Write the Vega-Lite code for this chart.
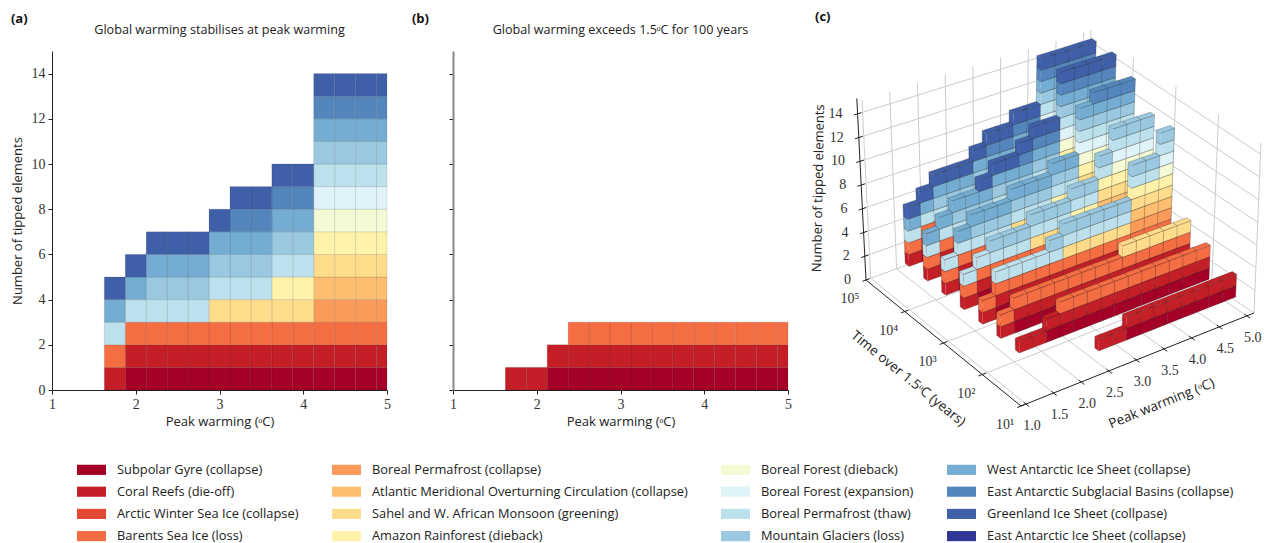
{"$schema":"https://vega.github.io/schema/vega-lite/v6.json","padding":{"left":10,"top":11,"right":0,"bottom":0},"background":"white","bounds":"flush","spacing":66,"resolve":{"scale":{"fill":"independent"},"legend":{"fill":"independent"}},
"datasets":{"elements":[{"id":1,"name":"Subpolar Gyre (collapse)"},{"id":2,"name":"Coral Reefs (die-off)"},{"id":3,"name":"Arctic Winter Sea Ice (collapse)"},{"id":4,"name":"Barents Sea Ice (loss)"},{"id":5,"name":"Boreal Permafrost (collapse)"},{"id":6,"name":"Atlantic Meridional Overturning Circulation (collapse)"},{"id":7,"name":"Sahel and W. African Monsoon (greening)"},{"id":8,"name":"Amazon Rainforest (dieback)"},{"id":9,"name":"Boreal Forest (dieback)"},{"id":10,"name":"Boreal Forest (expansion)"},{"id":11,"name":"Boreal Permafrost (thaw)"},{"id":12,"name":"Mountain Glaciers (loss)"},{"id":13,"name":"West Antarctic Ice Sheet (collapse)"},{"id":14,"name":"East Antarctic Subglacial Basins (collapse)"},{"id":15,"name":"Greenland Ice Sheet (collpase)"},{"id":16,"name":"East Antarctic Ice Sheet (collapse)"}],
"cells":[
{"t":5,"w":5,"e":1},{"t":5,"w":5,"e":2},{"t":5,"w":5,"e":4},{"t":5,"w":5,"e":5},{"t":5,"w":5,"e":6},{"t":5,"w":5,"e":7},{"t":5,"w":5,"e":8},{"t":5,"w":5,"e":9},{"t":5,"w":5,"e":10},{"t":5,"w":5,"e":11},{"t":5,"w":5,"e":12},{"t":5,"w":5,"e":13},{"t":5,"w":5,"e":14},{"t":5,"w":5,"e":15},
{"t":5,"w":4.75,"e":1},{"t":5,"w":4.75,"e":2},{"t":5,"w":4.75,"e":4},{"t":5,"w":4.75,"e":5},{"t":5,"w":4.75,"e":6},{"t":5,"w":4.75,"e":7},{"t":5,"w":4.75,"e":8},{"t":5,"w":4.75,"e":9},{"t":5,"w":4.75,"e":10},{"t":5,"w":4.75,"e":11},{"t":5,"w":4.75,"e":12},{"t":5,"w":4.75,"e":13},{"t":5,"w":4.75,"e":14},{"t":5,"w":4.75,"e":15},
{"t":5,"w":4.5,"e":1},{"t":5,"w":4.5,"e":2},{"t":5,"w":4.5,"e":4},{"t":5,"w":4.5,"e":5},{"t":5,"w":4.5,"e":6},{"t":5,"w":4.5,"e":7},{"t":5,"w":4.5,"e":8},{"t":5,"w":4.5,"e":9},{"t":5,"w":4.5,"e":10},{"t":5,"w":4.5,"e":11},{"t":5,"w":4.5,"e":12},{"t":5,"w":4.5,"e":13},{"t":5,"w":4.5,"e":14},{"t":5,"w":4.5,"e":15},
{"t":5,"w":4.25,"e":1},{"t":5,"w":4.25,"e":2},{"t":5,"w":4.25,"e":4},{"t":5,"w":4.25,"e":5},{"t":5,"w":4.25,"e":6},{"t":5,"w":4.25,"e":7},{"t":5,"w":4.25,"e":8},{"t":5,"w":4.25,"e":9},{"t":5,"w":4.25,"e":10},{"t":5,"w":4.25,"e":11},{"t":5,"w":4.25,"e":12},{"t":5,"w":4.25,"e":13},{"t":5,"w":4.25,"e":14},{"t":5,"w":4.25,"e":15},
{"t":5,"w":4,"e":1},{"t":5,"w":4,"e":2},{"t":5,"w":4,"e":4},{"t":5,"w":4,"e":7},{"t":5,"w":4,"e":8},{"t":5,"w":4,"e":11},{"t":5,"w":4,"e":12},{"t":5,"w":4,"e":13},{"t":5,"w":4,"e":14},{"t":5,"w":4,"e":15},
{"t":5,"w":3.75,"e":1},{"t":5,"w":3.75,"e":2},{"t":5,"w":3.75,"e":4},{"t":5,"w":3.75,"e":7},{"t":5,"w":3.75,"e":8},{"t":5,"w":3.75,"e":11},{"t":5,"w":3.75,"e":12},{"t":5,"w":3.75,"e":13},{"t":5,"w":3.75,"e":14},{"t":5,"w":3.75,"e":15},
{"t":5,"w":3.5,"e":1},{"t":5,"w":3.5,"e":2},{"t":5,"w":3.5,"e":4},{"t":5,"w":3.5,"e":7},{"t":5,"w":3.5,"e":11},{"t":5,"w":3.5,"e":12},{"t":5,"w":3.5,"e":13},{"t":5,"w":3.5,"e":14},{"t":5,"w":3.5,"e":15},
{"t":5,"w":3.25,"e":1},{"t":5,"w":3.25,"e":2},{"t":5,"w":3.25,"e":4},{"t":5,"w":3.25,"e":7},{"t":5,"w":3.25,"e":11},{"t":5,"w":3.25,"e":12},{"t":5,"w":3.25,"e":13},{"t":5,"w":3.25,"e":14},{"t":5,"w":3.25,"e":15},
{"t":5,"w":3,"e":1},{"t":5,"w":3,"e":2},{"t":5,"w":3,"e":4},{"t":5,"w":3,"e":7},{"t":5,"w":3,"e":11},{"t":5,"w":3,"e":12},{"t":5,"w":3,"e":13},{"t":5,"w":3,"e":15},
{"t":5,"w":2.75,"e":1},{"t":5,"w":2.75,"e":2},{"t":5,"w":2.75,"e":4},{"t":5,"w":2.75,"e":11},{"t":5,"w":2.75,"e":12},{"t":5,"w":2.75,"e":13},{"t":5,"w":2.75,"e":15},
{"t":5,"w":2.5,"e":1},{"t":5,"w":2.5,"e":2},{"t":5,"w":2.5,"e":4},{"t":5,"w":2.5,"e":11},{"t":5,"w":2.5,"e":12},{"t":5,"w":2.5,"e":13},{"t":5,"w":2.5,"e":15},
{"t":5,"w":2.25,"e":1},{"t":5,"w":2.25,"e":2},{"t":5,"w":2.25,"e":4},{"t":5,"w":2.25,"e":11},{"t":5,"w":2.25,"e":12},{"t":5,"w":2.25,"e":13},{"t":5,"w":2.25,"e":15},
{"t":5,"w":2,"e":1},{"t":5,"w":2,"e":2},{"t":5,"w":2,"e":4},{"t":5,"w":2,"e":11},{"t":5,"w":2,"e":13},{"t":5,"w":2,"e":15},
{"t":5,"w":1.75,"e":2},{"t":5,"w":1.75,"e":4},{"t":5,"w":1.75,"e":11},{"t":5,"w":1.75,"e":13},{"t":5,"w":1.75,"e":15},
{"t":4.53,"w":5,"e":1},{"t":4.53,"w":5,"e":2},{"t":4.53,"w":5,"e":4},{"t":4.53,"w":5,"e":5},{"t":4.53,"w":5,"e":6},{"t":4.53,"w":5,"e":7},{"t":4.53,"w":5,"e":8},{"t":4.53,"w":5,"e":9},{"t":4.53,"w":5,"e":10},{"t":4.53,"w":5,"e":11},{"t":4.53,"w":5,"e":12},{"t":4.53,"w":5,"e":13},{"t":4.53,"w":5,"e":14},{"t":4.53,"w":5,"e":15},
{"t":4.53,"w":4.75,"e":1},{"t":4.53,"w":4.75,"e":2},{"t":4.53,"w":4.75,"e":4},{"t":4.53,"w":4.75,"e":5},{"t":4.53,"w":4.75,"e":6},{"t":4.53,"w":4.75,"e":7},{"t":4.53,"w":4.75,"e":8},{"t":4.53,"w":4.75,"e":9},{"t":4.53,"w":4.75,"e":10},{"t":4.53,"w":4.75,"e":11},{"t":4.53,"w":4.75,"e":12},{"t":4.53,"w":4.75,"e":13},{"t":4.53,"w":4.75,"e":14},{"t":4.53,"w":4.75,"e":15},
{"t":4.53,"w":4.5,"e":1},{"t":4.53,"w":4.5,"e":2},{"t":4.53,"w":4.5,"e":4},{"t":4.53,"w":4.5,"e":5},{"t":4.53,"w":4.5,"e":6},{"t":4.53,"w":4.5,"e":7},{"t":4.53,"w":4.5,"e":8},{"t":4.53,"w":4.5,"e":9},{"t":4.53,"w":4.5,"e":10},{"t":4.53,"w":4.5,"e":11},{"t":4.53,"w":4.5,"e":12},{"t":4.53,"w":4.5,"e":13},{"t":4.53,"w":4.5,"e":14},{"t":4.53,"w":4.5,"e":15},
{"t":4.53,"w":4.25,"e":1},{"t":4.53,"w":4.25,"e":2},{"t":4.53,"w":4.25,"e":4},{"t":4.53,"w":4.25,"e":5},{"t":4.53,"w":4.25,"e":6},{"t":4.53,"w":4.25,"e":7},{"t":4.53,"w":4.25,"e":8},{"t":4.53,"w":4.25,"e":9},{"t":4.53,"w":4.25,"e":10},{"t":4.53,"w":4.25,"e":11},{"t":4.53,"w":4.25,"e":12},{"t":4.53,"w":4.25,"e":13},{"t":4.53,"w":4.25,"e":14},{"t":4.53,"w":4.25,"e":15},
{"t":4.53,"w":4,"e":1},{"t":4.53,"w":4,"e":2},{"t":4.53,"w":4,"e":4},{"t":4.53,"w":4,"e":7},{"t":4.53,"w":4,"e":8},{"t":4.53,"w":4,"e":11},{"t":4.53,"w":4,"e":12},{"t":4.53,"w":4,"e":13},{"t":4.53,"w":4,"e":14},{"t":4.53,"w":4,"e":15},
{"t":4.53,"w":3.75,"e":1},{"t":4.53,"w":3.75,"e":2},{"t":4.53,"w":3.75,"e":4},{"t":4.53,"w":3.75,"e":7},{"t":4.53,"w":3.75,"e":8},{"t":4.53,"w":3.75,"e":11},{"t":4.53,"w":3.75,"e":12},{"t":4.53,"w":3.75,"e":13},{"t":4.53,"w":3.75,"e":14},{"t":4.53,"w":3.75,"e":15},
{"t":4.53,"w":3.5,"e":1},{"t":4.53,"w":3.5,"e":2},{"t":4.53,"w":3.5,"e":4},{"t":4.53,"w":3.5,"e":7},{"t":4.53,"w":3.5,"e":11},{"t":4.53,"w":3.5,"e":12},{"t":4.53,"w":3.5,"e":13},{"t":4.53,"w":3.5,"e":14},{"t":4.53,"w":3.5,"e":15},
{"t":4.53,"w":3.25,"e":1},{"t":4.53,"w":3.25,"e":2},{"t":4.53,"w":3.25,"e":4},{"t":4.53,"w":3.25,"e":7},{"t":4.53,"w":3.25,"e":11},{"t":4.53,"w":3.25,"e":12},{"t":4.53,"w":3.25,"e":13},{"t":4.53,"w":3.25,"e":15},
{"t":4.53,"w":3,"e":1},{"t":4.53,"w":3,"e":2},{"t":4.53,"w":3,"e":4},{"t":4.53,"w":3,"e":7},{"t":4.53,"w":3,"e":11},{"t":4.53,"w":3,"e":12},{"t":4.53,"w":3,"e":13},{"t":4.53,"w":3,"e":15},
{"t":4.53,"w":2.75,"e":1},{"t":4.53,"w":2.75,"e":2},{"t":4.53,"w":2.75,"e":4},{"t":4.53,"w":2.75,"e":11},{"t":4.53,"w":2.75,"e":12},{"t":4.53,"w":2.75,"e":13},{"t":4.53,"w":2.75,"e":15},
{"t":4.53,"w":2.5,"e":1},{"t":4.53,"w":2.5,"e":2},{"t":4.53,"w":2.5,"e":4},{"t":4.53,"w":2.5,"e":11},{"t":4.53,"w":2.5,"e":12},{"t":4.53,"w":2.5,"e":13},
{"t":4.53,"w":2.25,"e":1},{"t":4.53,"w":2.25,"e":2},{"t":4.53,"w":2.25,"e":4},{"t":4.53,"w":2.25,"e":11},{"t":4.53,"w":2.25,"e":12},{"t":4.53,"w":2.25,"e":13},
{"t":4.53,"w":2,"e":1},{"t":4.53,"w":2,"e":2},{"t":4.53,"w":2,"e":4},{"t":4.53,"w":2,"e":11},{"t":4.53,"w":2,"e":13},
{"t":4.53,"w":1.75,"e":2},{"t":4.53,"w":1.75,"e":4},{"t":4.53,"w":1.75,"e":11},{"t":4.53,"w":1.75,"e":13},
{"t":4.07,"w":5,"e":1},{"t":4.07,"w":5,"e":2},{"t":4.07,"w":5,"e":4},{"t":4.07,"w":5,"e":5},{"t":4.07,"w":5,"e":6},{"t":4.07,"w":5,"e":7},{"t":4.07,"w":5,"e":8},{"t":4.07,"w":5,"e":9},{"t":4.07,"w":5,"e":10},{"t":4.07,"w":5,"e":11},{"t":4.07,"w":5,"e":12},{"t":4.07,"w":5,"e":13},{"t":4.07,"w":5,"e":14},
{"t":4.07,"w":4.75,"e":1},{"t":4.07,"w":4.75,"e":2},{"t":4.07,"w":4.75,"e":4},{"t":4.07,"w":4.75,"e":5},{"t":4.07,"w":4.75,"e":6},{"t":4.07,"w":4.75,"e":7},{"t":4.07,"w":4.75,"e":8},{"t":4.07,"w":4.75,"e":9},{"t":4.07,"w":4.75,"e":10},{"t":4.07,"w":4.75,"e":11},{"t":4.07,"w":4.75,"e":12},{"t":4.07,"w":4.75,"e":13},{"t":4.07,"w":4.75,"e":14},
{"t":4.07,"w":4.5,"e":1},{"t":4.07,"w":4.5,"e":2},{"t":4.07,"w":4.5,"e":4},{"t":4.07,"w":4.5,"e":5},{"t":4.07,"w":4.5,"e":6},{"t":4.07,"w":4.5,"e":7},{"t":4.07,"w":4.5,"e":8},{"t":4.07,"w":4.5,"e":9},{"t":4.07,"w":4.5,"e":10},{"t":4.07,"w":4.5,"e":11},{"t":4.07,"w":4.5,"e":12},{"t":4.07,"w":4.5,"e":13},{"t":4.07,"w":4.5,"e":14},
{"t":4.07,"w":4.25,"e":1},{"t":4.07,"w":4.25,"e":2},{"t":4.07,"w":4.25,"e":4},{"t":4.07,"w":4.25,"e":5},{"t":4.07,"w":4.25,"e":6},{"t":4.07,"w":4.25,"e":7},{"t":4.07,"w":4.25,"e":8},{"t":4.07,"w":4.25,"e":9},{"t":4.07,"w":4.25,"e":10},{"t":4.07,"w":4.25,"e":11},{"t":4.07,"w":4.25,"e":12},{"t":4.07,"w":4.25,"e":13},
{"t":4.07,"w":4,"e":1},{"t":4.07,"w":4,"e":2},{"t":4.07,"w":4,"e":4},{"t":4.07,"w":4,"e":7},{"t":4.07,"w":4,"e":8},{"t":4.07,"w":4,"e":11},{"t":4.07,"w":4,"e":12},{"t":4.07,"w":4,"e":13},
{"t":4.07,"w":3.75,"e":1},{"t":4.07,"w":3.75,"e":2},{"t":4.07,"w":3.75,"e":4},{"t":4.07,"w":3.75,"e":7},{"t":4.07,"w":3.75,"e":8},{"t":4.07,"w":3.75,"e":11},{"t":4.07,"w":3.75,"e":12},{"t":4.07,"w":3.75,"e":13},
{"t":4.07,"w":3.5,"e":1},{"t":4.07,"w":3.5,"e":2},{"t":4.07,"w":3.5,"e":4},{"t":4.07,"w":3.5,"e":7},{"t":4.07,"w":3.5,"e":11},{"t":4.07,"w":3.5,"e":12},{"t":4.07,"w":3.5,"e":13},
{"t":4.07,"w":3.25,"e":1},{"t":4.07,"w":3.25,"e":2},{"t":4.07,"w":3.25,"e":4},{"t":4.07,"w":3.25,"e":7},{"t":4.07,"w":3.25,"e":11},{"t":4.07,"w":3.25,"e":12},{"t":4.07,"w":3.25,"e":13},
{"t":4.07,"w":3,"e":1},{"t":4.07,"w":3,"e":2},{"t":4.07,"w":3,"e":4},{"t":4.07,"w":3,"e":7},{"t":4.07,"w":3,"e":11},{"t":4.07,"w":3,"e":12},{"t":4.07,"w":3,"e":13},
{"t":4.07,"w":2.75,"e":1},{"t":4.07,"w":2.75,"e":2},{"t":4.07,"w":2.75,"e":4},{"t":4.07,"w":2.75,"e":11},{"t":4.07,"w":2.75,"e":12},{"t":4.07,"w":2.75,"e":13},
{"t":4.07,"w":2.5,"e":1},{"t":4.07,"w":2.5,"e":2},{"t":4.07,"w":2.5,"e":4},{"t":4.07,"w":2.5,"e":11},{"t":4.07,"w":2.5,"e":12},{"t":4.07,"w":2.5,"e":13},
{"t":4.07,"w":2.25,"e":1},{"t":4.07,"w":2.25,"e":2},{"t":4.07,"w":2.25,"e":4},{"t":4.07,"w":2.25,"e":11},{"t":4.07,"w":2.25,"e":12},{"t":4.07,"w":2.25,"e":13},
{"t":4.07,"w":2,"e":1},{"t":4.07,"w":2,"e":2},{"t":4.07,"w":2,"e":4},{"t":4.07,"w":2,"e":11},{"t":4.07,"w":2,"e":13},
{"t":4.07,"w":1.75,"e":2},{"t":4.07,"w":1.75,"e":4},{"t":4.07,"w":1.75,"e":11},
{"t":3.6,"w":5,"e":1},{"t":3.6,"w":5,"e":2},{"t":3.6,"w":5,"e":4},{"t":3.6,"w":5,"e":5},{"t":3.6,"w":5,"e":6},{"t":3.6,"w":5,"e":7},{"t":3.6,"w":5,"e":8},{"t":3.6,"w":5,"e":9},{"t":3.6,"w":5,"e":10},{"t":3.6,"w":5,"e":11},{"t":3.6,"w":5,"e":12},
{"t":3.6,"w":4.75,"e":1},{"t":3.6,"w":4.75,"e":2},{"t":3.6,"w":4.75,"e":4},{"t":3.6,"w":4.75,"e":5},{"t":3.6,"w":4.75,"e":6},{"t":3.6,"w":4.75,"e":7},{"t":3.6,"w":4.75,"e":8},{"t":3.6,"w":4.75,"e":9},{"t":3.6,"w":4.75,"e":10},{"t":3.6,"w":4.75,"e":11},{"t":3.6,"w":4.75,"e":12},
{"t":3.6,"w":4.5,"e":1},{"t":3.6,"w":4.5,"e":2},{"t":3.6,"w":4.5,"e":4},{"t":3.6,"w":4.5,"e":5},{"t":3.6,"w":4.5,"e":6},{"t":3.6,"w":4.5,"e":7},{"t":3.6,"w":4.5,"e":8},{"t":3.6,"w":4.5,"e":9},{"t":3.6,"w":4.5,"e":10},{"t":3.6,"w":4.5,"e":11},{"t":3.6,"w":4.5,"e":12},
{"t":3.6,"w":4.25,"e":1},{"t":3.6,"w":4.25,"e":2},{"t":3.6,"w":4.25,"e":4},{"t":3.6,"w":4.25,"e":5},{"t":3.6,"w":4.25,"e":6},{"t":3.6,"w":4.25,"e":7},{"t":3.6,"w":4.25,"e":8},{"t":3.6,"w":4.25,"e":11},{"t":3.6,"w":4.25,"e":12},
{"t":3.6,"w":4,"e":1},{"t":3.6,"w":4,"e":2},{"t":3.6,"w":4,"e":4},{"t":3.6,"w":4,"e":7},{"t":3.6,"w":4,"e":8},{"t":3.6,"w":4,"e":11},{"t":3.6,"w":4,"e":12},
{"t":3.6,"w":3.75,"e":1},{"t":3.6,"w":3.75,"e":2},{"t":3.6,"w":3.75,"e":4},{"t":3.6,"w":3.75,"e":7},{"t":3.6,"w":3.75,"e":8},{"t":3.6,"w":3.75,"e":11},{"t":3.6,"w":3.75,"e":12},
{"t":3.6,"w":3.5,"e":1},{"t":3.6,"w":3.5,"e":2},{"t":3.6,"w":3.5,"e":4},{"t":3.6,"w":3.5,"e":7},{"t":3.6,"w":3.5,"e":11},{"t":3.6,"w":3.5,"e":12},
{"t":3.6,"w":3.25,"e":1},{"t":3.6,"w":3.25,"e":2},{"t":3.6,"w":3.25,"e":4},{"t":3.6,"w":3.25,"e":7},{"t":3.6,"w":3.25,"e":11},{"t":3.6,"w":3.25,"e":12},
{"t":3.6,"w":3,"e":1},{"t":3.6,"w":3,"e":2},{"t":3.6,"w":3,"e":4},{"t":3.6,"w":3,"e":7},{"t":3.6,"w":3,"e":11},{"t":3.6,"w":3,"e":12},
{"t":3.6,"w":2.75,"e":1},{"t":3.6,"w":2.75,"e":2},{"t":3.6,"w":2.75,"e":4},{"t":3.6,"w":2.75,"e":11},{"t":3.6,"w":2.75,"e":12},
{"t":3.6,"w":2.5,"e":1},{"t":3.6,"w":2.5,"e":2},{"t":3.6,"w":2.5,"e":4},{"t":3.6,"w":2.5,"e":11},{"t":3.6,"w":2.5,"e":12},
{"t":3.6,"w":2.25,"e":1},{"t":3.6,"w":2.25,"e":2},{"t":3.6,"w":2.25,"e":4},{"t":3.6,"w":2.25,"e":11},{"t":3.6,"w":2.25,"e":12},
{"t":3.6,"w":2,"e":1},{"t":3.6,"w":2,"e":2},{"t":3.6,"w":2,"e":4},{"t":3.6,"w":2,"e":11},
{"t":3.6,"w":1.75,"e":2},{"t":3.6,"w":1.75,"e":4},{"t":3.6,"w":1.75,"e":11},
{"t":3.13,"w":5,"e":1},{"t":3.13,"w":5,"e":2},{"t":3.13,"w":5,"e":4},{"t":3.13,"w":5,"e":5},{"t":3.13,"w":5,"e":6},{"t":3.13,"w":5,"e":7},{"t":3.13,"w":5,"e":8},{"t":3.13,"w":5,"e":9},{"t":3.13,"w":5,"e":10},{"t":3.13,"w":5,"e":11},{"t":3.13,"w":5,"e":12},
{"t":3.13,"w":4.75,"e":1},{"t":3.13,"w":4.75,"e":2},{"t":3.13,"w":4.75,"e":4},{"t":3.13,"w":4.75,"e":5},{"t":3.13,"w":4.75,"e":6},{"t":3.13,"w":4.75,"e":7},{"t":3.13,"w":4.75,"e":8},{"t":3.13,"w":4.75,"e":11},{"t":3.13,"w":4.75,"e":12},
{"t":3.13,"w":4.5,"e":1},{"t":3.13,"w":4.5,"e":2},{"t":3.13,"w":4.5,"e":4},{"t":3.13,"w":4.5,"e":5},{"t":3.13,"w":4.5,"e":6},{"t":3.13,"w":4.5,"e":7},{"t":3.13,"w":4.5,"e":8},{"t":3.13,"w":4.5,"e":11},{"t":3.13,"w":4.5,"e":12},
{"t":3.13,"w":4.25,"e":1},{"t":3.13,"w":4.25,"e":2},{"t":3.13,"w":4.25,"e":4},{"t":3.13,"w":4.25,"e":7},{"t":3.13,"w":4.25,"e":11},{"t":3.13,"w":4.25,"e":12},
{"t":3.13,"w":4,"e":1},{"t":3.13,"w":4,"e":2},{"t":3.13,"w":4,"e":4},{"t":3.13,"w":4,"e":7},{"t":3.13,"w":4,"e":11},{"t":3.13,"w":4,"e":12},
{"t":3.13,"w":3.75,"e":1},{"t":3.13,"w":3.75,"e":2},{"t":3.13,"w":3.75,"e":4},{"t":3.13,"w":3.75,"e":7},{"t":3.13,"w":3.75,"e":11},{"t":3.13,"w":3.75,"e":12},
{"t":3.13,"w":3.5,"e":1},{"t":3.13,"w":3.5,"e":2},{"t":3.13,"w":3.5,"e":4},{"t":3.13,"w":3.5,"e":7},{"t":3.13,"w":3.5,"e":11},{"t":3.13,"w":3.5,"e":12},
{"t":3.13,"w":3.25,"e":1},{"t":3.13,"w":3.25,"e":2},{"t":3.13,"w":3.25,"e":4},{"t":3.13,"w":3.25,"e":7},{"t":3.13,"w":3.25,"e":11},{"t":3.13,"w":3.25,"e":12},
{"t":3.13,"w":3,"e":1},{"t":3.13,"w":3,"e":2},{"t":3.13,"w":3,"e":4},{"t":3.13,"w":3,"e":11},{"t":3.13,"w":3,"e":12},
{"t":3.13,"w":2.75,"e":1},{"t":3.13,"w":2.75,"e":2},{"t":3.13,"w":2.75,"e":4},{"t":3.13,"w":2.75,"e":11},
{"t":3.13,"w":2.5,"e":1},{"t":3.13,"w":2.5,"e":2},{"t":3.13,"w":2.5,"e":4},{"t":3.13,"w":2.5,"e":11},
{"t":3.13,"w":2.25,"e":1},{"t":3.13,"w":2.25,"e":2},{"t":3.13,"w":2.25,"e":4},{"t":3.13,"w":2.25,"e":11},
{"t":3.13,"w":2,"e":1},{"t":3.13,"w":2,"e":2},{"t":3.13,"w":2,"e":4},{"t":3.13,"w":2,"e":11},
{"t":3.13,"w":1.75,"e":2},{"t":3.13,"w":1.75,"e":4},
{"t":2.67,"w":5,"e":1},{"t":2.67,"w":5,"e":2},{"t":2.67,"w":5,"e":4},{"t":2.67,"w":5,"e":7},
{"t":2.67,"w":4.75,"e":1},{"t":2.67,"w":4.75,"e":2},{"t":2.67,"w":4.75,"e":4},{"t":2.67,"w":4.75,"e":7},
{"t":2.67,"w":4.5,"e":1},{"t":2.67,"w":4.5,"e":2},{"t":2.67,"w":4.5,"e":4},{"t":2.67,"w":4.5,"e":7},
{"t":2.67,"w":4.25,"e":1},{"t":2.67,"w":4.25,"e":2},{"t":2.67,"w":4.25,"e":4},{"t":2.67,"w":4.25,"e":7},
{"t":2.67,"w":4,"e":1},{"t":2.67,"w":4,"e":2},{"t":2.67,"w":4,"e":4},{"t":2.67,"w":4,"e":7},
{"t":2.67,"w":3.75,"e":1},{"t":2.67,"w":3.75,"e":2},{"t":2.67,"w":3.75,"e":4},
{"t":2.67,"w":3.5,"e":1},{"t":2.67,"w":3.5,"e":2},{"t":2.67,"w":3.5,"e":4},
{"t":2.67,"w":3.25,"e":1},{"t":2.67,"w":3.25,"e":2},{"t":2.67,"w":3.25,"e":4},
{"t":2.67,"w":3,"e":1},{"t":2.67,"w":3,"e":2},{"t":2.67,"w":3,"e":4},
{"t":2.67,"w":2.75,"e":1},{"t":2.67,"w":2.75,"e":2},{"t":2.67,"w":2.75,"e":4},
{"t":2.67,"w":2.5,"e":1},{"t":2.67,"w":2.5,"e":2},{"t":2.67,"w":2.5,"e":4},
{"t":2.67,"w":2.25,"e":1},{"t":2.67,"w":2.25,"e":2},{"t":2.67,"w":2.25,"e":4},
{"t":2.67,"w":2,"e":1},{"t":2.67,"w":2,"e":2},{"t":2.67,"w":2,"e":4},
{"t":2.67,"w":1.75,"e":2},{"t":2.67,"w":1.75,"e":4},
{"t":2.2,"w":5,"e":1},{"t":2.2,"w":5,"e":2},{"t":2.2,"w":5,"e":4},
{"t":2.2,"w":4.75,"e":1},{"t":2.2,"w":4.75,"e":2},{"t":2.2,"w":4.75,"e":4},
{"t":2.2,"w":4.5,"e":1},{"t":2.2,"w":4.5,"e":2},{"t":2.2,"w":4.5,"e":4},
{"t":2.2,"w":4.25,"e":1},{"t":2.2,"w":4.25,"e":2},{"t":2.2,"w":4.25,"e":4},
{"t":2.2,"w":4,"e":1},{"t":2.2,"w":4,"e":2},{"t":2.2,"w":4,"e":4},
{"t":2.2,"w":3.75,"e":1},{"t":2.2,"w":3.75,"e":2},{"t":2.2,"w":3.75,"e":4},
{"t":2.2,"w":3.5,"e":1},{"t":2.2,"w":3.5,"e":2},{"t":2.2,"w":3.5,"e":4},
{"t":2.2,"w":3.25,"e":1},{"t":2.2,"w":3.25,"e":2},{"t":2.2,"w":3.25,"e":4},
{"t":2.2,"w":3,"e":1},{"t":2.2,"w":3,"e":2},{"t":2.2,"w":3,"e":4},
{"t":2.2,"w":2.75,"e":1},{"t":2.2,"w":2.75,"e":2},{"t":2.2,"w":2.75,"e":4},
{"t":2.2,"w":2.5,"e":1},{"t":2.2,"w":2.5,"e":2},{"t":2.2,"w":2.5,"e":4},
{"t":2.2,"w":2.25,"e":1},{"t":2.2,"w":2.25,"e":2},
{"t":2.2,"w":2,"e":2},{"t":2.2,"w":1.75,"e":2},
{"t":1.57,"w":5,"e":1},{"t":1.57,"w":5,"e":2},{"t":1.57,"w":4.75,"e":1},{"t":1.57,"w":4.75,"e":2},{"t":1.57,"w":4.5,"e":1},{"t":1.57,"w":4.5,"e":2},{"t":1.57,"w":4.25,"e":1},{"t":1.57,"w":4.25,"e":2},{"t":1.57,"w":4,"e":1},{"t":1.57,"w":4,"e":2},{"t":1.57,"w":3.75,"e":1},{"t":1.57,"w":3.75,"e":2},{"t":1.57,"w":3.5,"e":1},{"t":1.57,"w":3.5,"e":2},{"t":1.57,"w":3.25,"e":1},{"t":1.57,"w":3.25,"e":2},{"t":1.57,"w":3,"e":2},{"t":1.57,"w":2.75,"e":2}],
"annot":[
{"c":"g","g":"a1","w":1,"t":1,"z":0},{"c":"g","g":"a1","w":1,"t":5,"z":0},{"c":"g","g":"a2","w":1.5,"t":1,"z":0},{"c":"g","g":"a2","w":1.5,"t":5,"z":0},{"c":"g","g":"a3","w":2,"t":1,"z":0},{"c":"g","g":"a3","w":2,"t":5,"z":0},{"c":"g","g":"a4","w":2.5,"t":1,"z":0},{"c":"g","g":"a4","w":2.5,"t":5,"z":0},{"c":"g","g":"a5","w":3,"t":1,"z":0},{"c":"g","g":"a5","w":3,"t":5,"z":0},{"c":"g","g":"a6","w":3.5,"t":1,"z":0},{"c":"g","g":"a6","w":3.5,"t":5,"z":0},{"c":"g","g":"a7","w":4,"t":1,"z":0},{"c":"g","g":"a7","w":4,"t":5,"z":0},{"c":"g","g":"a8","w":4.5,"t":1,"z":0},{"c":"g","g":"a8","w":4.5,"t":5,"z":0},{"c":"g","g":"a9","w":5,"t":1,"z":0},{"c":"g","g":"a9","w":5,"t":5,"z":0},
{"c":"g","g":"b1","w":0.91,"t":2,"z":0},{"c":"g","g":"b1","w":5.13,"t":2,"z":0},{"c":"g","g":"b2","w":0.91,"t":3,"z":0},{"c":"g","g":"b2","w":5.13,"t":3,"z":0},{"c":"g","g":"b3","w":0.91,"t":4,"z":0},{"c":"g","g":"b3","w":5.13,"t":4,"z":0},{"c":"g","g":"b4","w":0.91,"t":5,"z":0},{"c":"g","g":"b4","w":5.13,"t":5,"z":0},{"c":"g","g":"b5","w":5.13,"t":1,"z":0},{"c":"g","g":"b5","w":5.13,"t":5,"z":0},
{"c":"g","g":"c1","w":1,"t":5,"z":0},{"c":"g","g":"c1","w":1,"t":5,"z":15},{"c":"g","g":"c2","w":1.5,"t":5,"z":0},{"c":"g","g":"c2","w":1.5,"t":5,"z":15},{"c":"g","g":"c3","w":2,"t":5,"z":0},{"c":"g","g":"c3","w":2,"t":5,"z":15},{"c":"g","g":"c4","w":2.5,"t":5,"z":0},{"c":"g","g":"c4","w":2.5,"t":5,"z":15},{"c":"g","g":"c5","w":3,"t":5,"z":0},{"c":"g","g":"c5","w":3,"t":5,"z":15},{"c":"g","g":"c6","w":3.5,"t":5,"z":0},{"c":"g","g":"c6","w":3.5,"t":5,"z":15},{"c":"g","g":"c7","w":4,"t":5,"z":0},{"c":"g","g":"c7","w":4,"t":5,"z":15},{"c":"g","g":"c8","w":4.5,"t":5,"z":0},{"c":"g","g":"c8","w":4.5,"t":5,"z":15},{"c":"g","g":"c9","w":5,"t":5,"z":0},{"c":"g","g":"c9","w":5,"t":5,"z":15},{"c":"g","g":"c10","w":5.13,"t":5,"z":0},{"c":"g","g":"c10","w":5.13,"t":5,"z":15},
{"c":"g","g":"d1","w":5.13,"t":1,"z":0},{"c":"g","g":"d1","w":5.13,"t":1,"z":15},{"c":"g","g":"d2","w":5.13,"t":2,"z":0},{"c":"g","g":"d2","w":5.13,"t":2,"z":15},{"c":"g","g":"d3","w":5.13,"t":3,"z":0},{"c":"g","g":"d3","w":5.13,"t":3,"z":15},{"c":"g","g":"d4","w":5.13,"t":4,"z":0},{"c":"g","g":"d4","w":5.13,"t":4,"z":15},
{"c":"g","g":"e2","w":0.91,"t":5,"z":2},{"c":"g","g":"e2","w":5.13,"t":5,"z":2},{"c":"g","g":"e2","w":5.13,"t":1,"z":2},{"c":"g","g":"e4","w":0.91,"t":5,"z":4},{"c":"g","g":"e4","w":5.13,"t":5,"z":4},{"c":"g","g":"e4","w":5.13,"t":1,"z":4},{"c":"g","g":"e6","w":0.91,"t":5,"z":6},{"c":"g","g":"e6","w":5.13,"t":5,"z":6},{"c":"g","g":"e6","w":5.13,"t":1,"z":6},{"c":"g","g":"e8","w":0.91,"t":5,"z":8},{"c":"g","g":"e8","w":5.13,"t":5,"z":8},{"c":"g","g":"e8","w":5.13,"t":1,"z":8},{"c":"g","g":"e10","w":0.91,"t":5,"z":10},{"c":"g","g":"e10","w":5.13,"t":5,"z":10},{"c":"g","g":"e10","w":5.13,"t":1,"z":10},{"c":"g","g":"e12","w":0.91,"t":5,"z":12},{"c":"g","g":"e12","w":5.13,"t":5,"z":12},{"c":"g","g":"e12","w":5.13,"t":1,"z":12},{"c":"g","g":"e14","w":0.91,"t":5,"z":14},{"c":"g","g":"e14","w":5.13,"t":5,"z":14},{"c":"g","g":"e14","w":5.13,"t":1,"z":14},
{"c":"x","g":"z","w":0.91,"t":5,"z":0},{"c":"x","g":"z","w":0.91,"t":5,"z":15.3},{"c":"x","g":"t","w":0.91,"t":1,"z":0},{"c":"x","g":"t","w":0.91,"t":5,"z":0},{"c":"x","g":"w","w":0.91,"t":1,"z":0},{"c":"x","g":"w","w":5.13,"t":1,"z":0},
{"c":"x","g":"w1","w":1,"t":0.92,"z":0},{"c":"x","g":"w1","w":1,"t":1.06,"z":0},{"c":"x","g":"w2","w":1.5,"t":0.92,"z":0},{"c":"x","g":"w2","w":1.5,"t":1.06,"z":0},{"c":"x","g":"w3","w":2,"t":0.92,"z":0},{"c":"x","g":"w3","w":2,"t":1.06,"z":0},{"c":"x","g":"w4","w":2.5,"t":0.92,"z":0},{"c":"x","g":"w4","w":2.5,"t":1.06,"z":0},{"c":"x","g":"w5","w":3,"t":0.92,"z":0},{"c":"x","g":"w5","w":3,"t":1.06,"z":0},{"c":"x","g":"w6","w":3.5,"t":0.92,"z":0},{"c":"x","g":"w6","w":3.5,"t":1.06,"z":0},{"c":"x","g":"w7","w":4,"t":0.92,"z":0},{"c":"x","g":"w7","w":4,"t":1.06,"z":0},{"c":"x","g":"w8","w":4.5,"t":0.92,"z":0},{"c":"x","g":"w8","w":4.5,"t":1.06,"z":0},{"c":"x","g":"w9","w":5,"t":0.92,"z":0},{"c":"x","g":"w9","w":5,"t":1.06,"z":0},
{"c":"x","g":"t1","w":0.84,"t":1,"z":0},{"c":"x","g":"t1","w":0.98,"t":1,"z":0},{"c":"x","g":"t2","w":0.84,"t":2,"z":0},{"c":"x","g":"t2","w":0.98,"t":2,"z":0},{"c":"x","g":"t3","w":0.84,"t":3,"z":0},{"c":"x","g":"t3","w":0.98,"t":3,"z":0},{"c":"x","g":"t4","w":0.84,"t":4,"z":0},{"c":"x","g":"t4","w":0.98,"t":4,"z":0},{"c":"x","g":"t5","w":0.84,"t":5,"z":0},{"c":"x","g":"t5","w":0.98,"t":5,"z":0},
{"c":"x","g":"z2","w":0.84,"t":5,"z":2},{"c":"x","g":"z2","w":0.98,"t":5,"z":2},{"c":"x","g":"z4","w":0.84,"t":5,"z":4},{"c":"x","g":"z4","w":0.98,"t":5,"z":4},{"c":"x","g":"z6","w":0.84,"t":5,"z":6},{"c":"x","g":"z6","w":0.98,"t":5,"z":6},{"c":"x","g":"z8","w":0.84,"t":5,"z":8},{"c":"x","g":"z8","w":0.98,"t":5,"z":8},{"c":"x","g":"z10","w":0.84,"t":5,"z":10},{"c":"x","g":"z10","w":0.98,"t":5,"z":10},{"c":"x","g":"z12","w":0.84,"t":5,"z":12},{"c":"x","g":"z12","w":0.98,"t":5,"z":12},{"c":"x","g":"z14","w":0.84,"t":5,"z":14},{"c":"x","g":"z14","w":0.98,"t":5,"z":14},
{"c":"zl","w":0.91,"t":5,"z":0,"label":"0"},{"c":"zl","w":0.91,"t":5,"z":2,"label":"2"},{"c":"zl","w":0.91,"t":5,"z":4,"label":"4"},{"c":"zl","w":0.91,"t":5,"z":6,"label":"6"},{"c":"zl","w":0.91,"t":5,"z":8,"label":"8"},{"c":"zl","w":0.91,"t":5,"z":10,"label":"10"},{"c":"zl","w":0.91,"t":5,"z":12,"label":"12"},{"c":"zl","w":0.91,"t":5,"z":14,"label":"14"},
{"c":"tl","w":0.91,"t":1,"z":0,"label":"10¹"},{"c":"tl","w":0.91,"t":2,"z":0,"label":"10²"},{"c":"tl","w":0.91,"t":3,"z":0,"label":"10³"},{"c":"tl","w":0.91,"t":4,"z":0,"label":"10⁴"},{"c":"tl","w":0.91,"t":5,"z":0,"label":"10⁵"},
{"c":"wl","w":1,"t":1,"z":0,"label":"1.0"},{"c":"wl","w":1.5,"t":1,"z":0,"label":"1.5"},{"c":"wl","w":2,"t":1,"z":0,"label":"2.0"},{"c":"wl","w":2.5,"t":1,"z":0,"label":"2.5"},{"c":"wl","w":3,"t":1,"z":0,"label":"3.0"},{"c":"wl","w":3.5,"t":1,"z":0,"label":"3.5"},{"c":"wl","w":4,"t":1,"z":0,"label":"4.0"},{"c":"wl","w":4.5,"t":1,"z":0,"label":"4.5"},{"c":"wl","w":5,"t":1,"z":0,"label":"5.0"},
{"c":"zt","w":0.91,"t":5,"z":7.5,"label":"Number of tipped elements"},{"c":"tt","w":0.91,"t":3,"z":0,"label":"Time over 1.5ᵒC (years)"},{"c":"wt","w":3,"t":1,"z":0,"label":"Peak warming (ᵒC)"}]},
"config":{"view":{"stroke":null},"font":"Open Sans","axis":{"grid":false,"domainColor":"#222","tickColor":"#222","labelFont":"Liberation Serif","labelFontSize":14,"labelColor":"#333","labelFlush":false,"titleFont":"Open Sans","titleFontWeight":"normal","titleFontSize":13,"titleColor":"#222","tickSize":4,"labelPadding":3,"labelAngle":0},"title":{"font":"Open Sans","fontSize":12.6,"fontWeight":"normal","color":"#222","offset":-23}},
"hconcat":[
{"width":335,"height":339,"title":"Global warming stabilises at peak warming","layer":[
{"data":{"name":"cells"},"transform":[{"filter":"datum.t==5"},{"window":[{"op":"row_number","as":"n"}],"groupby":["w"]},{"lookup":"e","from":{"data":{"name":"elements"},"key":"id","fields":["name"]}},{"calculate":"datum.w-0.125","as":"w0"},{"calculate":"min(5,datum.w+0.125)","as":"w1"},{"calculate":"datum.n-1","as":"n0"}],
"mark":{"type":"rect","stroke":"#000","strokeOpacity":0.15,"strokeWidth":0.7},
"encoding":{"x":{"field":"w0","type":"quantitative","scale":{"domain":[1,5],"nice":false},"axis":{"values":[1,2,3,4,5],"format":"d","title":"Peak warming (ᵒC)"}},"x2":{"field":"w1"},"y":{"field":"n0","type":"quantitative","scale":{"domain":[0,15],"nice":false},"axis":{"values":[0,2,4,6,8,10,12,14],"title":"Number of tipped elements","titlePadding":7}},"y2":{"field":"n"},
"fill":{"field":"name","type":"nominal","sort":null,"scale":{"domain":["Subpolar Gyre (collapse)","Coral Reefs (die-off)","Arctic Winter Sea Ice (collapse)","Barents Sea Ice (loss)","Boreal Permafrost (collapse)","Atlantic Meridional Overturning Circulation (collapse)","Sahel and W. African Monsoon (greening)","Amazon Rainforest (dieback)","Boreal Forest (dieback)","Boreal Forest (expansion)","Boreal Permafrost (thaw)","Mountain Glaciers (loss)","West Antarctic Ice Sheet (collapse)","East Antarctic Subglacial Basins (collapse)","Greenland Ice Sheet (collpase)","East Antarctic Ice Sheet (collapse)"],"range":["#a50026","#c41f26","#e34933","#f46d43","#fb9a59","#fdbe70","#fedc8c","#fff3ac","#f3fad4","#e0f3f8","#bce1ec","#99c8e0","#74add1","#5485bd","#3f5fa9","#313695"]},"legend":{"orient":"none","legendX":32,"legendY":411,"columns":4,"title":null,"symbolType":"M-2,-0.7H2V0.7H-2Z","symbolSize":210,"symbolStrokeWidth":0,"symbolOpacity":1,"labelFont":"Open Sans","labelFontSize":12.85,"labelColor":"#222","labelLimit":0,"labelOffset":18,"rowPadding":7.2,"columnPadding":33}}}},
{"data":{"values":[{"x":0.51,"y":16.4,"label":"(a)"}]},"mark":{"type":"text","font":"Open Sans","fontWeight":"bold","fontSize":13,"align":"left","color":"#111"},"encoding":{"x":{"field":"x","type":"quantitative"},"y":{"field":"y","type":"quantitative"},"text":{"field":"label"}}}
]},
{"width":335,"height":339,"title":"Global warming exceeds 1.5ᵒC for 100 years","layer":[
{"data":{"name":"cells"},"transform":[{"filter":"datum.t==2.2"},{"window":[{"op":"row_number","as":"n"}],"groupby":["w"]},{"calculate":"datum.w-0.125","as":"w0"},{"calculate":"min(5,datum.w+0.125)","as":"w1"},{"calculate":"datum.n-1","as":"n0"}],
"mark":{"type":"rect","stroke":"#000","strokeOpacity":0.15,"strokeWidth":0.7},
"encoding":{"x":{"field":"w0","type":"quantitative","scale":{"domain":[1,5],"nice":false},"axis":{"values":[1,2,3,4,5],"format":"d","title":"Peak warming (ᵒC)"}},"x2":{"field":"w1"},"y":{"field":"n0","type":"quantitative","scale":{"domain":[0,15],"nice":false},"axis":{"values":[0,2,4,6,8,10,12,14],"labels":false,"title":null,"domainColor":"#888","domainWidth":2}},"y2":{"field":"n"},
"fill":{"field":"e","type":"ordinal","scale":{"domain":[1,2,3,4],"range":["#a50026","#c41f26","#e34933","#f46d43"]},"legend":null}}},
{"data":{"values":[{"x":0.51,"y":16.4,"label":"(b)"}]},"mark":{"type":"text","font":"Open Sans","fontWeight":"bold","fontSize":13,"align":"left","color":"#111"},"encoding":{"x":{"field":"x","type":"quantitative"},"y":{"field":"y","type":"quantitative"},"text":{"field":"label"}}}
]},
{"width":410,"height":339,
"layer":[
{"data":{"name":"annot"},"transform":[{"calculate":"(datum.w-0.91)/4.22","as":"u"},{"calculate":"(datum.t-1)/4","as":"v"},{"calculate":"datum.z/15","as":"h"},{"calculate":"(1-datum.u)*(1-datum.v)*(1021-datum.h)+datum.u*(1-datum.v)*(1254+7*datum.h)+(1-datum.u)*datum.v*(866-9*datum.h)+datum.u*datum.v*(1085+6*datum.h)","as":"px"},{"calculate":"(1-datum.u)*(1-datum.v)*(406-180*datum.h)+datum.u*(1-datum.v)*(313-170*datum.h)+(1-datum.u)*datum.v*(280-178*datum.h)+datum.u*datum.v*(200-170*datum.h)","as":"py"}],
"layer":[
{"transform":[{"filter":"datum.c=='g'"}],"mark":{"type":"line","stroke":"#ccc","strokeWidth":1},"encoding":{"x":{"field":"px","type":"quantitative","scale":{"domain":[854,1264],"nice":false,"zero":false},"axis":null},"y":{"field":"py","type":"quantitative","scale":{"domain":[390,51],"nice":false,"zero":false},"axis":null},"detail":{"field":"g"}}},
{"transform":[{"filter":"datum.c=='x'"}],"mark":{"type":"line","stroke":"#222","strokeWidth":1},"encoding":{"x":{"field":"px","type":"quantitative","axis":null},"y":{"field":"py","type":"quantitative","axis":null},"detail":{"field":"g"}}},
{"transform":[{"filter":"datum.c=='zl'"}],"mark":{"type":"text","font":"Liberation Serif","fontSize":14,"color":"#333","align":"right","dx":-15},"encoding":{"x":{"field":"px","type":"quantitative","axis":null},"y":{"field":"py","type":"quantitative","axis":null},"text":{"field":"label"}}},
{"transform":[{"filter":"datum.c=='tl'"}],"mark":{"type":"text","font":"Liberation Serif","fontSize":14,"color":"#333","dx":-16,"dy":19},"encoding":{"x":{"field":"px","type":"quantitative","axis":null},"y":{"field":"py","type":"quantitative","axis":null},"text":{"field":"label"}}},
{"transform":[{"filter":"datum.c=='wl'"}],"mark":{"type":"text","font":"Liberation Serif","fontSize":14,"color":"#333","dx":6,"dy":22},"encoding":{"x":{"field":"px","type":"quantitative","axis":null},"y":{"field":"py","type":"quantitative","axis":null},"text":{"field":"label"}}},
{"transform":[{"filter":"datum.c=='zt'"}],"mark":{"type":"text","font":"Open Sans","fontSize":13,"color":"#222","angle":271,"dx":2,"dy":-43},"encoding":{"x":{"field":"px","type":"quantitative","axis":null},"y":{"field":"py","type":"quantitative","axis":null},"text":{"field":"label"}}},
{"transform":[{"filter":"datum.c=='tt'"}],"mark":{"type":"text","font":"Open Sans","fontSize":13.5,"color":"#222","angle":39,"dx":-5,"dy":50},"encoding":{"x":{"field":"px","type":"quantitative","axis":null},"y":{"field":"py","type":"quantitative","axis":null},"text":{"field":"label"}}},
{"transform":[{"filter":"datum.c=='wt'"}],"mark":{"type":"text","font":"Open Sans","fontSize":13.5,"color":"#222","angle":338,"dx":7,"dy":50},"encoding":{"x":{"field":"px","type":"quantitative","axis":null},"y":{"field":"py","type":"quantitative","axis":null},"text":{"field":"label"}}}
]},
{"data":{"name":"cells"},"transform":[{"window":[{"op":"row_number","as":"n"}],"groupby":["t","w"]},{"calculate":"[0,1,2,3,4,5,6,7,8,9,10,11]","as":"k"},{"flatten":["k"]},{"calculate":"datum.w-0.125+0.25*[0,0,0,0,0,1,1,0,0,1,1,0][datum.k]","as":"wv"},{"calculate":"datum.t+0.1*[0,1,1,0,0,0,0,0,0,0,1,1][datum.k]","as":"tv"},{"calculate":"datum.n-1+[0,0,1,1,0,0,1,1,1,1,1,1][datum.k]","as":"zv"},{"calculate":"(datum.wv-0.91)/4.22","as":"u"},{"calculate":"(datum.tv-1)/4","as":"v"},{"calculate":"datum.zv/15","as":"h"},{"calculate":"6+(1-datum.u)*(1-datum.v)*(1021-datum.h)+datum.u*(1-datum.v)*(1254+7*datum.h)+(1-datum.u)*datum.v*(866-9*datum.h)+datum.u*datum.v*(1085+6*datum.h)","as":"px"},{"calculate":"(1-datum.u)*(1-datum.v)*(406-180*datum.h)+datum.u*(1-datum.v)*(313-170*datum.h)+(1-datum.u)*datum.v*(280-178*datum.h)+datum.u*datum.v*(200-170*datum.h)","as":"py"},{"calculate":"datum.t+'_'+datum.w+'_'+datum.n+'_'+floor(datum.k/4)","as":"g"}],
"mark":{"type":"line","stroke":"#222","strokeWidth":0.5,"strokeOpacity":0.5},
"encoding":{"x":{"field":"px","type":"quantitative","axis":null},"y":{"field":"py","type":"quantitative","axis":null},"detail":{"field":"g"},"order":{"field":"k","type":"quantitative"},
"fill":{"field":"e","type":"ordinal","scale":{"domain":[1,2,3,4,5,6,7,8,9,10,11,12,13,14,15,16],"range":["#a50026","#c41f26","#e34933","#f46d43","#fb9a59","#fdbe70","#fedc8c","#fff3ac","#f3fad4","#e0f3f8","#bce1ec","#99c8e0","#74add1","#5485bd","#3f5fa9","#313695"]},"legend":null}}},
{"data":{"values":[{"x":815,"y":17,"label":"(c)"}]},"mark":{"type":"text","font":"Open Sans","fontWeight":"bold","fontSize":13,"align":"left","color":"#111"},"encoding":{"x":{"field":"x","type":"quantitative","axis":null},"y":{"field":"y","type":"quantitative","axis":null},"text":{"field":"label"}}}
]}
]}
